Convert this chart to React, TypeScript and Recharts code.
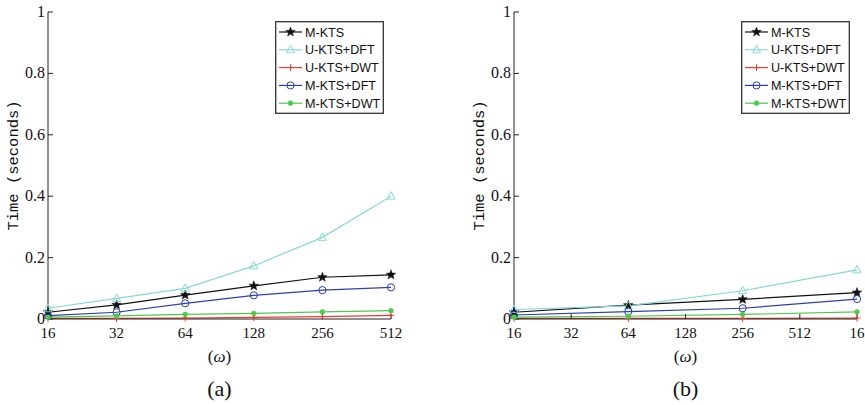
import React from 'react';
import { LineChart, Line, XAxis, YAxis, Legend } from 'recharts';

// panel (a)
const xLabelsA = ['16', '32', '64', '128', '256', '512'];
const mKtsA = [0.022, 0.046, 0.078, 0.108, 0.136, 0.144];
const uDftA = [0.035, 0.067, 0.1, 0.173, 0.266, 0.4];
const uDwtA = [0.002, 0.002, 0.003, 0.005, 0.008, 0.012];
const mDftA = [0.011, 0.022, 0.051, 0.077, 0.094, 0.103];
const mDwtA = [0.006, 0.01, 0.015, 0.018, 0.023, 0.027];

// panel (b) - only every other window size measured
const xLabelsB = ['16', '32', '64', '128', '256', '512', '16'];
const mKtsB = [0.022, null, 0.045, null, 0.064, null, 0.086];
const uDftB = [0.031, null, 0.043, null, 0.092, null, 0.16];
const uDwtB = [0.002, null, 0.002, null, 0.002, null, 0.003];
const mDftB = [0.013, null, 0.024, null, 0.035, null, 0.065];
const mDwtB = [0.006, null, 0.009, null, 0.015, null, 0.023];

const yTicks = [0, 0.2, 0.4, 0.6, 0.8, 1];

const series = [
  { key: 'mKts', name: 'M-KTS', color: '#111111', shape: 'star' },
  { key: 'uDft', name: 'U-KTS+DFT', color: '#86d8d6', shape: 'triangle' },
  { key: 'uDwt', name: 'U-KTS+DWT', color: '#ee3a30', shape: 'plus' },
  { key: 'mDft', name: 'M-KTS+DFT', color: '#2c3fae', shape: 'circle' },
  { key: 'mDwt', name: 'M-KTS+DWT', color: '#4cc94c', shape: 'asterisk' },
];

const SERIF = "'Liberation Serif', 'Times New Roman', serif";
const SANS = "'Liberation Sans', Arial, sans-serif";
const MONO = "'Liberation Mono', 'DejaVu Sans Mono', monospace";

const buildRows = (labels: string[], cols: Record<string, (number | null)[]>) =>
  labels.map((x, i) => {
    const row: Record<string, any> = { x };
    Object.keys(cols).forEach((k) => (row[k] = cols[k][i]));
    return row;
  });

const dataA = buildRows(xLabelsA, { mKts: mKtsA, uDft: uDftA, uDwt: uDwtA, mDft: mDftA, mDwt: mDwtA });
const dataB = buildRows(xLabelsB, { mKts: mKtsB, uDft: uDftB, uDwt: uDwtB, mDft: mDftB, mDwt: mDwtB });

function Marker({ shape, color, cx, cy }: { shape: string; color: string; cx: number; cy: number }) {
  if (shape === 'star') {
    const pts: string[] = [];
    for (let i = 0; i < 10; i++) {
      const r = i % 2 === 0 ? 5 : 2.1;
      const a = -Math.PI / 2 + (i * Math.PI) / 5;
      pts.push(`${cx + r * Math.cos(a)},${cy + r * Math.sin(a)}`);
    }
    return <polygon points={pts.join(' ')} fill={color} stroke={color} strokeWidth={0.5} />;
  }
  if (shape === 'triangle') {
    return (
      <polygon
        points={`${cx},${cy - 4.5} ${cx - 4},${cy + 3} ${cx + 4},${cy + 3}`}
        fill="none"
        stroke={color}
        strokeWidth={1}
      />
    );
  }
  if (shape === 'plus') {
    return (
      <g stroke={color} strokeWidth={1}>
        <line x1={cx - 3.5} x2={cx + 3.5} y1={cy} y2={cy} />
        <line x1={cx} x2={cx} y1={cy - 3.5} y2={cy + 3.5} />
      </g>
    );
  }
  if (shape === 'circle') {
    return <circle cx={cx} cy={cy} r={3.6} fill="none" stroke={color} strokeWidth={1} />;
  }
  return <circle cx={cx} cy={cy} r={2.4} fill={color} stroke={color} strokeWidth={0.6} />;
}

const makeDot = (shape: string, color: string) => (props: any) => {
  const { cx, cy, index } = props;
  if (cy == null || cx == null || Number.isNaN(cy)) return <g key={`d-${index}`} />;
  return (
    <g key={`d-${index}`}>
      <Marker shape={shape} color={color} cx={cx} cy={cy} />
    </g>
  );
};

function LegendBox() {
  return (
    <svg width={109} height={93} style={{ display: 'block' }}>
      <rect x={0.7} y={0.7} width={107.6} height={91.6} fill="#fff" stroke="#333" strokeWidth={1.3} />
      {series.map((s, i) => {
        const cy = 11 + i * 17.8;
        return (
          <g key={s.key}>
            <line x1={4} x2={27} y1={cy} y2={cy} stroke={s.color} strokeWidth={1.2} />
            <Marker shape={s.shape} color={s.color} cx={15.5} cy={cy} />
            <text x={30} y={cy + 4.6} fontSize={12.6} fontFamily={SANS} fill="#111">
              {s.name}
            </text>
          </g>
        );
      })}
    </svg>
  );
}

const fmtY = (v: number) => (v === 0 ? '0' : v === 1 ? '1' : String(v));

function XTick(props: any) {
  const { x, y, payload } = props;
  return (
    <text x={x} y={y} dy={13} textAnchor="middle" fontSize={15} fontFamily={SERIF} fill="#111">
      {payload.value}
    </text>
  );
}

function YTick(props: any) {
  const { x, y, payload } = props;
  return (
    <text x={x} y={y} dy={5} textAnchor="end" fontSize={16} fontFamily={SERIF} fill="#111">
      {fmtY(payload.value)}
    </text>
  );
}

function Panel({ data, width, marginLeft, marginRight, legendLeft, caption }: any) {
  return (
    <LineChart
      width={width}
      height={405}
      data={data}
      margin={{ top: 12, right: marginRight, bottom: 0, left: marginLeft }}
    >
      <XAxis
        dataKey="x"
        height={86}
        interval={0}
        tickSize={-5}
        tickMargin={11}
        stroke="#222"
        tick={<XTick />}
        label={(p: any) => {
          const vb = p.viewBox;
          const cx = vb.x + vb.width / 2;
          return (
            <g>
              <text x={cx} y={vb.y + 43} textAnchor="middle" fontSize={17} fontFamily={SERIF} fill="#111">
                (<tspan fontStyle="italic">ω</tspan>)
              </text>
              <text x={cx} y={vb.y + 77} textAnchor="middle" fontSize={22} fontFamily={SERIF} fill="#111">
                {caption}
              </text>
            </g>
          );
        }}
      />
      <XAxis xAxisId="top" dataKey="x" orientation="top" height={0} interval={0} tickSize={-5} tick={false} stroke="#222" />
      <YAxis
        type="number"
        domain={[0, 1]}
        ticks={yTicks}
        width={48}
        tickSize={-5}
        tickMargin={8}
        stroke="#222"
        tick={<YTick />}
        label={(p: any) => {
          const vb = p.viewBox;
          const x = vb.x + 14;
          const y = vb.y + vb.height / 2;
          return (
            <text
              x={x}
              y={y}
              textAnchor="middle"
              dominantBaseline="central"
              transform={`rotate(-90 ${x} ${y})`}
              fontSize={15.5}
              fontFamily={MONO}
              fill="#111"
            >
              Time (seconds)
            </text>
          );
        }}
      />
      <YAxis yAxisId="right" orientation="right" type="number" domain={[0, 1]} ticks={yTicks} width={0} tickSize={-5} tick={false} stroke="#222" />
      <Legend
        layout="horizontal"
        verticalAlign="middle"
        align="center"
        wrapperStyle={{ top: 21, left: legendLeft, width: 109, height: 93 }}
        content={() => <LegendBox />}
      />
      {series.map((s) => (
        <Line
          key={s.key}
          dataKey={s.key}
          name={s.name}
          stroke={s.color}
          strokeWidth={1.2}
          connectNulls
          dot={makeDot(s.shape, s.color)}
          activeDot={false}
          isAnimationActive={false}
        />
      ))}
    </LineChart>
  );
}

export default function App() {
  return (
    <div style={{ position: 'absolute', left: 0, top: 0, width: 865, height: 405, display: 'flex', background: '#fff' }}>
      <Panel data={dataA} width={430} marginLeft={0} marginRight={39} legendLeft={275} caption="(a)" />
      <Panel data={dataB} width={435} marginLeft={36} marginRight={8} legendLeft={311} caption="(b)" />
    </div>
  );
}
